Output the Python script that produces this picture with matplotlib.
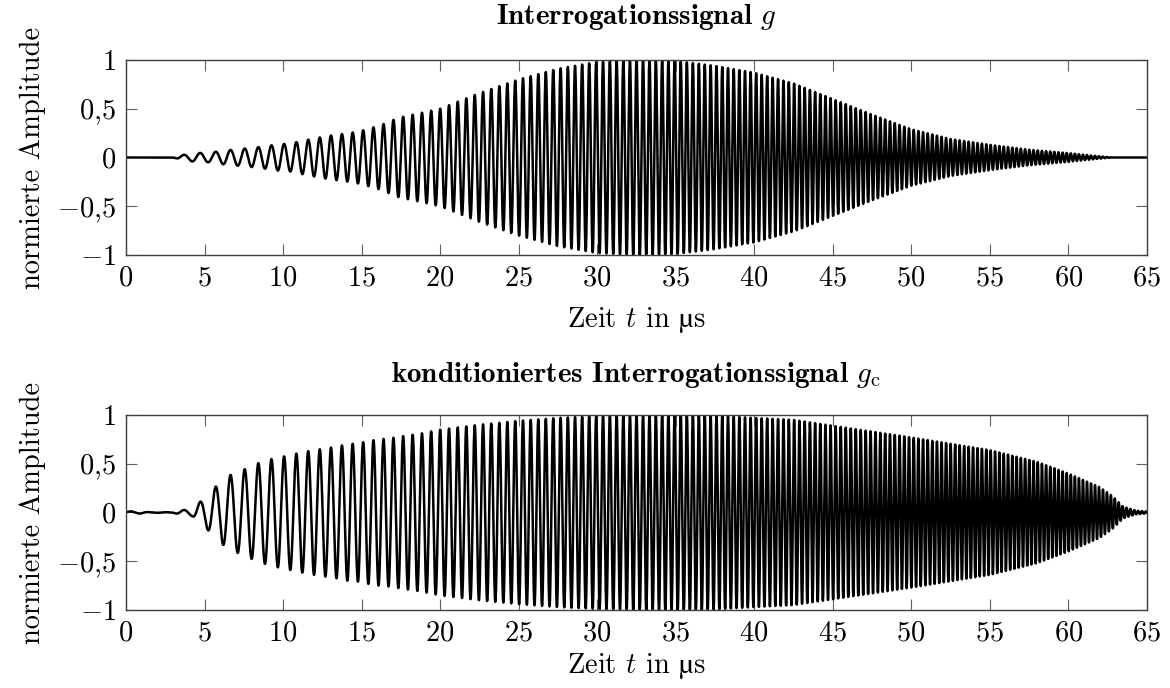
import numpy as np
import matplotlib
matplotlib.use('Agg')
import matplotlib.pyplot as plt
from matplotlib.offsetbox import TextArea, HPacker, AnchoredOffsetbox

# Zeitachse / Achsenbeschriftung
x_ticks = [0, 5, 10, 15, 20, 25, 30, 35, 40, 45, 50, 55, 60, 65]
y_ticks = [-1, -0.5, 0, 0.5, 1]
y_tick_labels = [r'$-1$', r'$-0{,}5$', r'$0$', r'$0{,}5$', r'$1$']

# Momentanfrequenz (MHz)
freq_t = [0, 3, 7, 12.5, 17, 22.5, 27.5, 32.5, 37.5, 65]
freq_f = [0.85, 0.9, 1.1, 1.39, 1.6, 1.89, 2.14, 2.4, 2.7, 4.1]

# Einhüllende g
env_g_t = [0, 3.0, 3.4, 4.4, 5.3, 6.2, 7.2, 8.1, 8.9, 9.7, 10.5, 11.2, 12.0, 12.8,
           13.5, 14.2, 14.9, 16.2, 17.4, 18.6, 20, 22.5, 25, 27.5, 30, 32.5, 35,
           37.5, 40, 42.5, 45, 47.5, 50, 52.5, 55, 57.5, 60, 61.5, 62.8, 65]
env_g_a = [0, 0, 0.02, 0.045, 0.05, 0.07, 0.086, 0.10, 0.116, 0.135, 0.145, 0.17,
           0.195, 0.22, 0.235, 0.25, 0.27, 0.33, 0.41, 0.45, 0.5, 0.66, 0.8, 0.91,
           0.98, 1.0, 0.99, 0.94, 0.87, 0.76, 0.6, 0.44, 0.29, 0.19, 0.13, 0.08,
           0.045, 0.02, 0, 0]

# Einhüllende g_c
env_gc_t = [0, 1.0, 1.5, 3.0, 3.4, 4.2, 4.65, 5.1, 5.6, 6.5, 7.5, 8.4, 9.3, 10.2,
            11.0, 11.8, 12.6, 13.4, 14.1, 14.8, 15.5, 16.1, 16.8, 17.5, 18.8, 20,
            22.5, 25, 27.5, 30, 33, 37, 40, 42.5, 45, 50, 55, 58, 60, 61, 62,
            62.8, 63.5, 64.3, 65]
env_gc_a = [0.012, 0.01, 0.003, 0.003, 0.02, 0.035, 0.1, 0.16, 0.25, 0.375, 0.44,
            0.505, 0.55, 0.58, 0.61, 0.635, 0.655, 0.675, 0.70, 0.71, 0.735, 0.75,
            0.76, 0.78, 0.81, 0.85, 0.9, 0.94, 0.97, 0.99, 1.0, 1.0, 0.97, 0.95,
            0.89, 0.77, 0.64, 0.52, 0.40, 0.33, 0.26, 0.17, 0.06, 0.02, 0.01]

titles = [r'Interrogationssignal $g$',
          r'konditioniertes Interrogationssignal $g_{\mathrm{c}}$']
# "Zeit t in µs" in Stücken, weil cmr10 kein µ hat
x_label_parts = ['Zeit $t$ in', '\u00b5', 's']
y_label = 'normierte Amplitude'

plt.rcParams['mathtext.fontset'] = 'cm'
plt.rcParams['font.family'] = ['cmr10']
plt.rcParams['axes.formatter.use_mathtext'] = True

FS = 20.5

t = np.linspace(0, 65, 26001)
phase = 2 * np.pi * np.cumsum(np.interp(t, freq_t, freq_f)) * (t[1] - t[0])
carrier = np.sin(phase)
signals = [np.interp(t, env_g_t, env_g_a) * carrier,
           np.interp(t, env_gc_t, env_gc_a) * carrier]

fig = plt.figure(figsize=(11.7, 6.88), dpi=100)
positions = [[0.1077, 0.6294, 0.8724, 0.2834],
             [0.1077, 0.1134, 0.8724, 0.2834]]
title_pads = [26, 24]
xlabel_y = [1 - 320 / 688, 1 - 666 / 688]

for pos, sig, title, tpad, xly in zip(positions, signals, titles, title_pads, xlabel_y):
    ax = fig.add_axes(pos)
    ax.plot(t, sig, color='black', linewidth=1.8)
    ax.set_xlim(0, 65)
    ax.set_ylim(-1, 1)
    ax.set_xticks(x_ticks)
    ax.set_xticklabels([rf'${v}$' for v in x_ticks])
    ax.set_yticks(y_ticks)
    ax.set_yticklabels(y_tick_labels)
    ax.tick_params(direction='in', top=True, right=True, length=8, width=0.8,
                   color='#606060', labelsize=FS)
    ax.tick_params(axis='x', pad=7)
    ax.tick_params(axis='y', pad=7)
    for sp in ax.spines.values():
        sp.set_color('#404040')
        sp.set_linewidth(1.0)
    ax.set_title(title, fontsize=FS + 0.5, family='cmb10', pad=tpad)
    ax.set_ylabel(y_label, fontsize=FS, labelpad=8)

    parts = [TextArea(x_label_parts[0], textprops=dict(fontsize=FS, family='cmr10')),
             TextArea(x_label_parts[1], textprops=dict(fontsize=FS, family='STIXGeneral')),
             TextArea(x_label_parts[2], textprops=dict(fontsize=FS, family='cmr10'))]
    row = HPacker(children=[parts[0], HPacker(children=parts[1:], sep=0.5,
                                              pad=0, align='baseline')],
                  sep=6.5, pad=0, align='baseline')
    box = AnchoredOffsetbox(loc='center', child=row, frameon=False, pad=0,
                            borderpad=0, bbox_to_anchor=(0.5 * (2 * pos[0] + pos[2]), xly),
                            bbox_transform=fig.transFigure)
    fig.add_artist(box)

plt.savefig('out.png', dpi=100, facecolor='white')
plt.close()
